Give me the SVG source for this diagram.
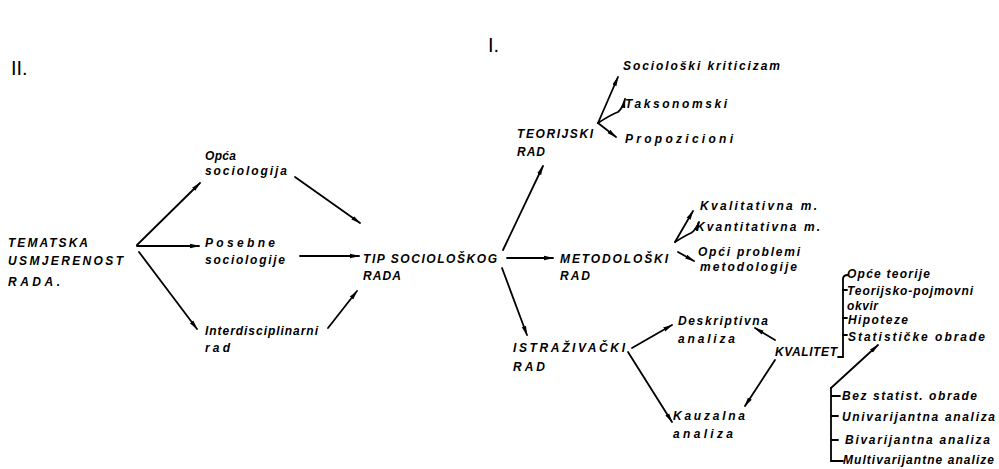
<svg xmlns="http://www.w3.org/2000/svg" width="999" height="469" viewBox="0 0 999 469">
<style>
text{font-family:"Liberation Sans",Arial,sans-serif;font-style:italic;font-weight:bold;font-size:12px;fill:#000}
.num{font-style:normal;font-weight:normal;font-size:20px}
.c{stroke:#000;stroke-width:1.8;fill:none;stroke-linecap:round}
.ca{stroke:#000;stroke-width:1.8;fill:none;stroke-linecap:round;marker-end:url(#ah)}
</style>
<defs>
<marker id="ah" viewBox="0 0 10 6" refX="9" refY="3" markerWidth="10" markerHeight="6" markerUnits="userSpaceOnUse" orient="auto">
<path d="M0,0.8 L10,3 L0,5.2 z" fill="#000"/>
</marker>
</defs>
<rect width="999" height="469" fill="#fff"/>
<text class="num" x="488" y="52">I.</text>
<text class="num" x="11" y="75">II.</text>

<g id="tematska">
<text x="8" y="247" textLength="80" lengthAdjust="spacing">TEMATSKA</text>
<text x="8" y="265" textLength="115" lengthAdjust="spacing">USMJERENOST</text>
<text x="8" y="286" textLength="52" lengthAdjust="spacing">RADA.</text>
</g>
<g id="opca">
<text x="205" y="160" textLength="31" lengthAdjust="spacing">Opća</text>
<text x="205" y="175" textLength="82" lengthAdjust="spacing">sociologija</text>
</g>
<g id="posebne">
<text x="205" y="247" textLength="70" lengthAdjust="spacing">Posebne</text>
<text x="205" y="264" textLength="80" lengthAdjust="spacing">sociologije</text>
</g>
<g id="interd">
<text x="205" y="335" textLength="113" lengthAdjust="spacing">Interdisciplinarni</text>
<text x="205" y="352" textLength="25" lengthAdjust="spacing">rad</text>
</g>
<g id="tip">
<text x="363" y="263" textLength="134" lengthAdjust="spacing">TIP SOCIOLOŠKOG</text>
<text x="363" y="280" textLength="38" lengthAdjust="spacing">RADA</text>
</g>
<g id="teorijski">
<text x="517" y="138" textLength="76" lengthAdjust="spacing">TEORIJSKI</text>
<text x="517" y="156" textLength="28" lengthAdjust="spacing">RAD</text>
</g>
<g id="soc-krit"><text x="623" y="70" textLength="157" lengthAdjust="spacing">Sociološki kriticizam</text></g>
<g id="taks"><text x="625" y="108" textLength="102" lengthAdjust="spacing">Taksonomski</text></g>
<g id="propoz"><text x="625" y="143" textLength="108" lengthAdjust="spacing">Propozicioni</text></g>
<g id="metod">
<text x="560" y="263" textLength="108" lengthAdjust="spacing">METODOLOŠKI</text>
<text x="560" y="280" textLength="30" lengthAdjust="spacing">RAD</text>
</g>
<g id="kval-m"><text x="700" y="210" textLength="117" lengthAdjust="spacing">Kvalitativna m.</text></g>
<g id="kvant-m"><text x="696" y="231" textLength="124" lengthAdjust="spacing">Kvantitativna m.</text></g>
<g id="opci-prob">
<text x="698" y="256" textLength="102" lengthAdjust="spacing">Opći problemi</text>
<text x="700" y="271" textLength="97" lengthAdjust="spacing">metodologije</text>
</g>
<g id="istraz">
<text x="513" y="352" textLength="112" lengthAdjust="spacing">ISTRAŽIVAČKI</text>
<text x="513" y="371" textLength="32" lengthAdjust="spacing">RAD</text>
</g>
<g id="deskr">
<text x="678" y="325" textLength="90" lengthAdjust="spacing">Deskriptivna</text>
<text x="678" y="343" textLength="57" lengthAdjust="spacing">analiza</text>
</g>
<g id="kauz">
<text x="673" y="420" textLength="72" lengthAdjust="spacing">Kauzalna</text>
<text x="673" y="438" textLength="60" lengthAdjust="spacing">analiza</text>
</g>
<g id="kvalitet"><text x="775" y="356" textLength="62" lengthAdjust="spacing">KVALITET</text></g>
<g id="kvalitet-lista">
<text x="847" y="278" textLength="83" lengthAdjust="spacing">Opće teorije</text>
<text x="847" y="295" textLength="126" lengthAdjust="spacing">Teorijsko-pojmovni</text>
<text x="847" y="310" textLength="31" lengthAdjust="spacing">okvir</text>
<text x="848" y="324" textLength="60" lengthAdjust="spacing">Hipoteze</text>
<text x="848" y="341" textLength="137" lengthAdjust="spacing">Statističke obrade</text>
</g>
<g id="obrade-lista">
<text x="842" y="400" textLength="135" lengthAdjust="spacing">Bez statist. obrade</text>
<text x="842" y="421" textLength="153" lengthAdjust="spacing">Univarijantna analiza</text>
<text x="845" y="444" textLength="145" lengthAdjust="spacing">Bivarijantna analiza</text>
<text x="843" y="464" textLength="151" lengthAdjust="spacing">Multivarijantne analize</text>
</g>

<g id="connectors">
<path class="ca" d="M137,245 L200,183"/>
<path class="ca" d="M137,246 L199,246"/>
<path class="ca" d="M139,252 L197,329"/>
<path class="ca" d="M295,177 L360,223"/>
<path class="ca" d="M300,256 L359,256"/>
<path class="ca" d="M328,328 L357,291"/>
<path class="ca" d="M503,250 L543,166"/>
<path class="ca" d="M507,258 L553,258"/>
<path class="ca" d="M502,268 L527,335"/>
<path class="ca" d="M598,123 L618,77"/>
<path class="ca" d="M598,123 Q612,114 618,112 Q623,108 625,99"/>
<path class="ca" d="M598,123 L616,137"/>
<path class="ca" d="M675,242 L693,211"/>
<path class="ca" d="M675,242 Q688,234 691,233 Q696,230 699,222"/>
<path class="ca" d="M678,252 L694,261"/>
<path class="ca" d="M632,348 L672,325"/>
<path class="ca" d="M628,352 L672,422"/>
<path class="ca" d="M775,340 L755,328"/>
<path class="ca" d="M775,360 L745,406"/>
<path class="c" d="M848,275 Q843,275 843,279 L843,357 L838,357"/>
<path class="c" d="M843,290 L847,290 M843,318 L847,318 M843,335 L847,335"/>
<path class="ca" d="M831,388 L878,345"/>
<path class="c" d="M831,388 L831,461 L843,461 M831,396 L840,396 M831,416 L838,416 M831,440 L838,440"/>
</g>
</svg>
